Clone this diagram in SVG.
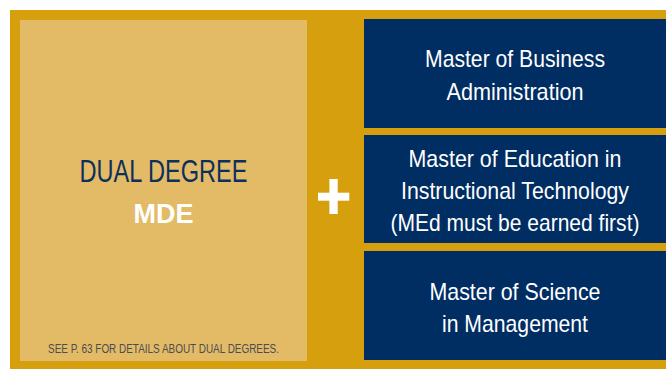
<svg xmlns="http://www.w3.org/2000/svg" width="666" height="369" viewBox="0 0 666 369">
<style>
.gold{fill:#D59F0E}
.light{fill:#E3BB66}
.navy{fill:#002D62}
.wt{font-family:"Liberation Sans",Arial,sans-serif;font-size:24px;fill:#FFFFFF;text-anchor:middle}
.dd{font-family:"Liberation Sans",Arial,sans-serif;font-size:32px;fill:#0D2F5E;text-anchor:middle}
.mde{font-family:"Liberation Sans",Arial,sans-serif;font-size:28.5px;font-weight:bold;fill:#FFFFFF;text-anchor:middle}
.ft{font-family:"Liberation Sans",Arial,sans-serif;font-size:12.5px;fill:#4A4D52;text-anchor:middle}
</style>
<rect class="gold" x="10" y="10" width="656" height="359"/>
<g id="dual-degree">
<rect class="light" x="20" y="20" width="287" height="341"/>
<text class="dd" x="163.5" y="182" textLength="168" lengthAdjust="spacingAndGlyphs">DUAL DEGREE</text>
<text class="mde" x="163.5" y="223.3" textLength="60" lengthAdjust="spacingAndGlyphs">MDE</text>
<text class="ft" x="163.5" y="353.3" textLength="231" lengthAdjust="spacingAndGlyphs">SEE P. 63 FOR DETAILS ABOUT DUAL DEGREES.</text>
</g>
<g id="plus">
<rect x="318" y="192.7" width="31.3" height="8" fill="#FFFFFF"/>
<rect x="329.4" y="179" width="8.3" height="35" fill="#FFFFFF"/>
</g>
<g id="mba">
<rect class="navy" x="364" y="19" width="302" height="109"/>
<text class="wt" x="515" y="67.3" textLength="180" lengthAdjust="spacingAndGlyphs">Master of Business</text>
<text class="wt" x="515" y="100" textLength="137" lengthAdjust="spacingAndGlyphs">Administration</text>
</g>
<g id="med">
<rect class="navy" x="364" y="135" width="302" height="108"/>
<text class="wt" x="515" y="167" textLength="213" lengthAdjust="spacingAndGlyphs">Master of Education in</text>
<text class="wt" x="515" y="199" textLength="228" lengthAdjust="spacingAndGlyphs">Instructional Technology</text>
<text class="wt" x="515" y="231" textLength="249" lengthAdjust="spacingAndGlyphs">(MEd must be earned first)</text>
</g>
<g id="msm">
<rect class="navy" x="364" y="251" width="302" height="109"/>
<text class="wt" x="515" y="300" textLength="171" lengthAdjust="spacingAndGlyphs">Master of Science</text>
<text class="wt" x="515" y="332" textLength="146" lengthAdjust="spacingAndGlyphs">in Management</text>
</g>
<g id="connectors"/>
</svg>
